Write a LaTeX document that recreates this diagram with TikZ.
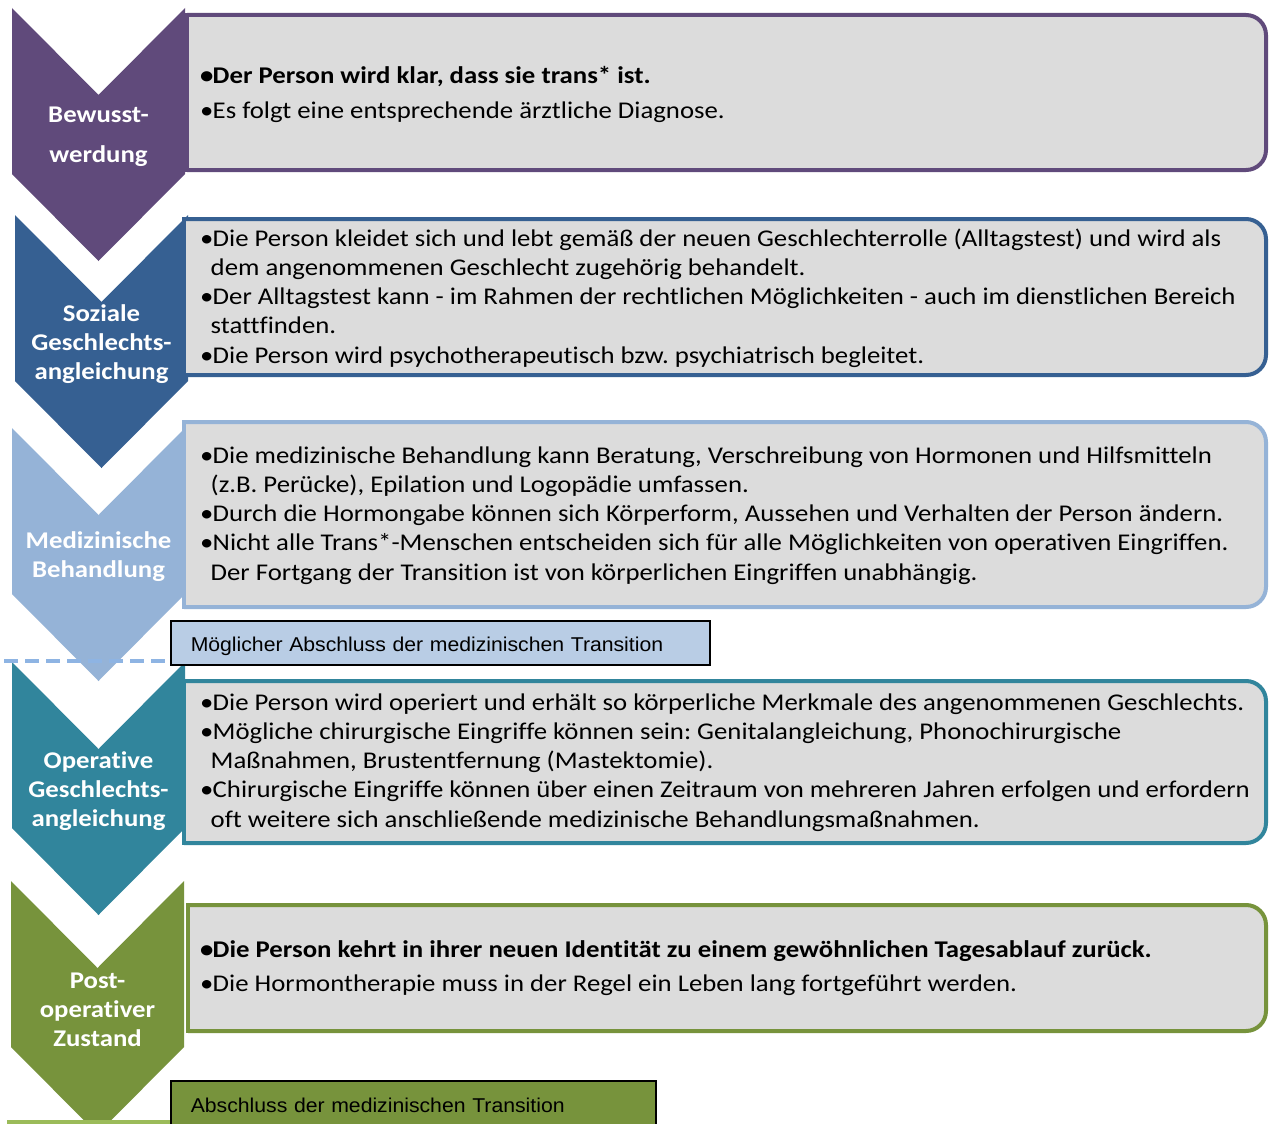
\documentclass[tikz,border=0pt]{standalone}
\usepackage{fontspec}
\setmainfont{Carlito}[FakeStretch=1.115, Ligatures=NoCommon]
\newfontfamily\arialfont{Liberation Sans}[FakeStretch=1.06]
\usetikzlibrary{positioning,calc}
\frenchspacing
\definecolor{stA}{HTML}{604A7B}
\definecolor{stB}{HTML}{366092}
\definecolor{stC}{HTML}{95B3D7}
\definecolor{stD}{HTML}{31859C}
\definecolor{stE}{HTML}{77933C}
\definecolor{boxgray}{HTML}{DCDCDC}
\definecolor{endblue}{HTML}{B9CDE5}
\definecolor{dashblue}{HTML}{8EB4E3}
\definecolor{endgreen}{HTML}{9BBB59}
\newcommand{\bul}{\makebox[12.5pt][l]{•}}
\newcommand{\cont}{\hspace{10.5pt}}
\tikzset{
    stagetext/.style={text=white, align=center, font=\bfseries\fontsize{24}{29}\selectfont},
    itemtext/.style={anchor=base west, inner sep=0pt, font=\fontsize{24}{29}\selectfont},
    endbox/.style={draw=black, line width=1.5pt, anchor=north west, inner xsep=20pt, align=left,
        minimum height=44pt, text height=17pt, text depth=0pt, font=\arialfont\fontsize{20}{24}\selectfont},
    dashline/.style={line width=4.5pt, dash pattern=on 14pt off 7pt},
}

\begin{document}
\begin{tikzpicture}[x=1pt, y=-1pt]
    \useasboundingbox[fill=white] (0,0) rectangle (1270,1124);
    \foreach[count=\i] \col/\cx/\ct/\bl/\bt/\bb/\lab in {
            stA/12/8/187/15/170/{Bewusst-\\[11pt]werdung},
            stB/15/215/184/219/375/{Soziale\\Geschlechts-\\angleichung},
            stC/12/428/184/422/607/{Medizinische\\Behandlung},
            stD/12/662/184/681/843/{Operative\\Geschlechts-\\angleichung},
            stE/11/881/188/905/1031/{Post-\\operativer\\Zustand}} {
        \fill[\col] (\cx,\ct) -- ++(86.5,87) -- ++(86.5,-87) -- ++(0,166)
            -- ++(-86.5,87) -- ++(-86.5,-87) -- cycle;
        \filldraw[fill=boxgray, draw=\col, line width=4pt, rounded corners=20pt]
            (\bl,\bt) -- (1266,\bt) -- (1266,\bb) -- (\bl,\bb);
        \draw[\col, line width=4pt, line cap=rect] (\bl,\bt) -- (\bl,\bb);
        \node[stagetext] (stage-\i) at (\cx+86.5,\ct+129) {\lab};
    }
    \foreach[count=\j] \ln in {{\textbf{\bul Der Person wird klar, dass sie trans* ist.}},
            {\bul Es folgt eine entsprechende ärztliche Diagnose.}} {
        \node[itemtext] (a-\j) at (200,{84+34*(\j-1)}) {\ln};
    }
    \foreach[count=\j] \ln in {
            {\bul Die Person kleidet sich und lebt gemäß der neuen Geschlechterrolle (Alltagstest) und wird als},
            {\cont dem angenommenen Geschlecht zugehörig behandelt.},
            {\bul Der Alltagstest kann - im Rahmen der rechtlichen Möglichkeiten - auch im dienstlichen Bereich},
            {\cont stattfinden.},
            {\bul Die Person wird psychotherapeutisch bzw. psychiatrisch begleitet.}} {
        \node[itemtext] (b-\j) at (200,{246+29.25*(\j-1)}) {\ln};
    }
    \foreach[count=\j] \ln in {
            {\bul Die medizinische Behandlung kann Beratung, Verschreibung von Hormonen und Hilfsmitteln},
            {\cont (z.B. Perücke), Epilation und Logopädie umfassen.},
            {\bul Durch die Hormongabe können sich Körperform, Aussehen und Verhalten der Person ändern.},
            {\bul Nicht alle Trans*-Menschen entscheiden sich für alle Möglichkeiten von operativen Eingriffen.},
            {\cont Der Fortgang der Transition ist von körperlichen Eingriffen unabhängig.}} {
        \node[itemtext] (c-\j) at (200,{463+29.25*(\j-1)}) {\ln};
    }
    \foreach[count=\j] \ln in {
            {\bul Die Person wird operiert und erhält so körperliche Merkmale des angenommenen Geschlechts.},
            {\bul Mögliche chirurgische Eingriffe können sein: Genitalangleichung, Phonochirurgische},
            {\cont Maßnahmen, Brustentfernung (Mastektomie).},
            {\bul Chirurgische Eingriffe können über einen Zeitraum von mehreren Jahren erfolgen und erfordern},
            {\cont oft weitere sich anschließende medizinische Behandlungsmaßnahmen.}} {
        \node[itemtext] (d-\j) at (200,{710+29.25*(\j-1)}) {\ln};
    }
    \foreach[count=\j] \ln in {
            {\textbf{\bul Die Person kehrt in ihrer neuen Identität zu einem gewöhnlichen Tagesablauf zurück.}},
            {\bul Die Hormontherapie muss in der Regel ein Leben lang fortgeführt werden.}} {
        \node[itemtext] (e-\j) at (200,{957+34*(\j-1)}) {\ln};
    }
    \node[endbox, fill=endblue, text width=499pt] (ende-med) at (170,620)
        {Möglicher Abschluss der medizinischen Transition};
    \coordinate (cut) at (4,661);
    \draw[dashline, black!45, opacity=0.45, yshift=-4pt] (cut) -- (cut -| ende-med.west);
    \draw[dashline, dashblue] (cut) -- (cut -| ende-med.west);
    \coordinate (base) at (7,1122);
    \draw[endgreen, line width=4pt] (base) -- ++(163,0);
    \node[endbox, fill=stE, text width=445pt, minimum height=46pt] (ende-tr) at (170,1080)
        {Abschluss der medizinischen Transition};
\end{tikzpicture}
\end{document}
